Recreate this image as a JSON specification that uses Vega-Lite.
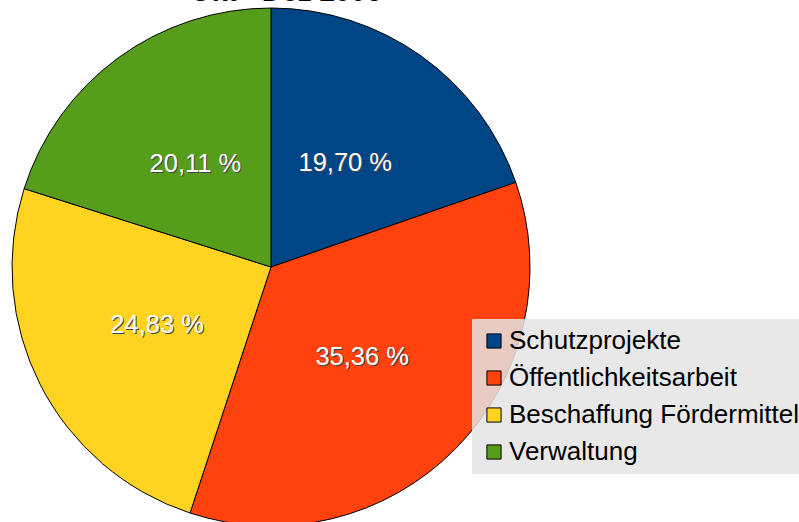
{
  "$schema": "https://vega.github.io/schema/vega-lite/v6.json",
  "width": 542,
  "height": 510,
  "autosize": {"type": "none"},
  "padding": {"left": 0, "top": 12, "right": 257, "bottom": 0},
  "background": "white",
  "title": {
    "text": "Okt - Dez 2006",
    "fontSize": 28,
    "font": "Liberation Sans",
    "fontWeight": "bold",
    "color": "black",
    "anchor": "middle",
    "dx": 15,
    "offset": -1
  },
  "data": {
    "values": [
      {"kategorie": "Schutzprojekte", "anteil": 19.70, "label": "19,70 %", "reihenfolge": 1},
      {"kategorie": "Öffentlichkeitsarbeit", "anteil": 35.36, "label": "35,36 %", "reihenfolge": 2},
      {"kategorie": "Beschaffung Fördermittel", "anteil": 24.83, "label": "24,83 %", "reihenfolge": 3},
      {"kategorie": "Verwaltung", "anteil": 20.11, "label": "20,11 %", "reihenfolge": 4}
    ]
  },
  "encoding": {
    "theta": {"field": "anteil", "type": "quantitative", "stack": true},
    "order": {"field": "reihenfolge", "type": "quantitative"}
  },
  "layer": [
    {
      "mark": {"type": "arc", "outerRadius": 259, "stroke": "black", "strokeWidth": 1},
      "encoding": {
        "color": {
          "field": "kategorie",
          "type": "nominal",
          "sort": ["Schutzprojekte", "Öffentlichkeitsarbeit", "Beschaffung Fördermittel", "Verwaltung"],
          "scale": {
            "domain": ["Schutzprojekte", "Öffentlichkeitsarbeit", "Beschaffung Fördermittel", "Verwaltung"],
            "range": ["#004586", "#ff420e", "#ffd320", "#579d1c"]
          },
          "legend": {
            "title": null,
            "orient": "none",
            "legendX": 472,
            "legendY": 307,
            "fillColor": "rgba(228,228,228,0.85)",
            "padding": 9,
            "symbolType": "square",
            "symbolSize": 200,
            "symbolStrokeColor": "black",
            "symbolStrokeWidth": 1,
            "symbolOpacity": 1,
            "labelFont": "Liberation Sans",
            "labelFontSize": 26,
            "labelColor": "black",
            "labelOffset": 2,
            "labelLimit": 400,
            "rowPadding": 11
          }
        }
      }
    },
    {
      "mark": {"type": "text", "radius": 128, "font": "Liberation Sans", "fontSize": 25.5, "fill": "#444444", "dx": 1, "dy": 1},
      "encoding": {"text": {"field": "label", "type": "nominal"}}
    },
    {
      "mark": {"type": "text", "radius": 128, "font": "Liberation Sans", "fontSize": 25.5, "fill": "white"},
      "encoding": {"text": {"field": "label", "type": "nominal"}}
    }
  ],
  "config": {"view": {"stroke": null}}
}
